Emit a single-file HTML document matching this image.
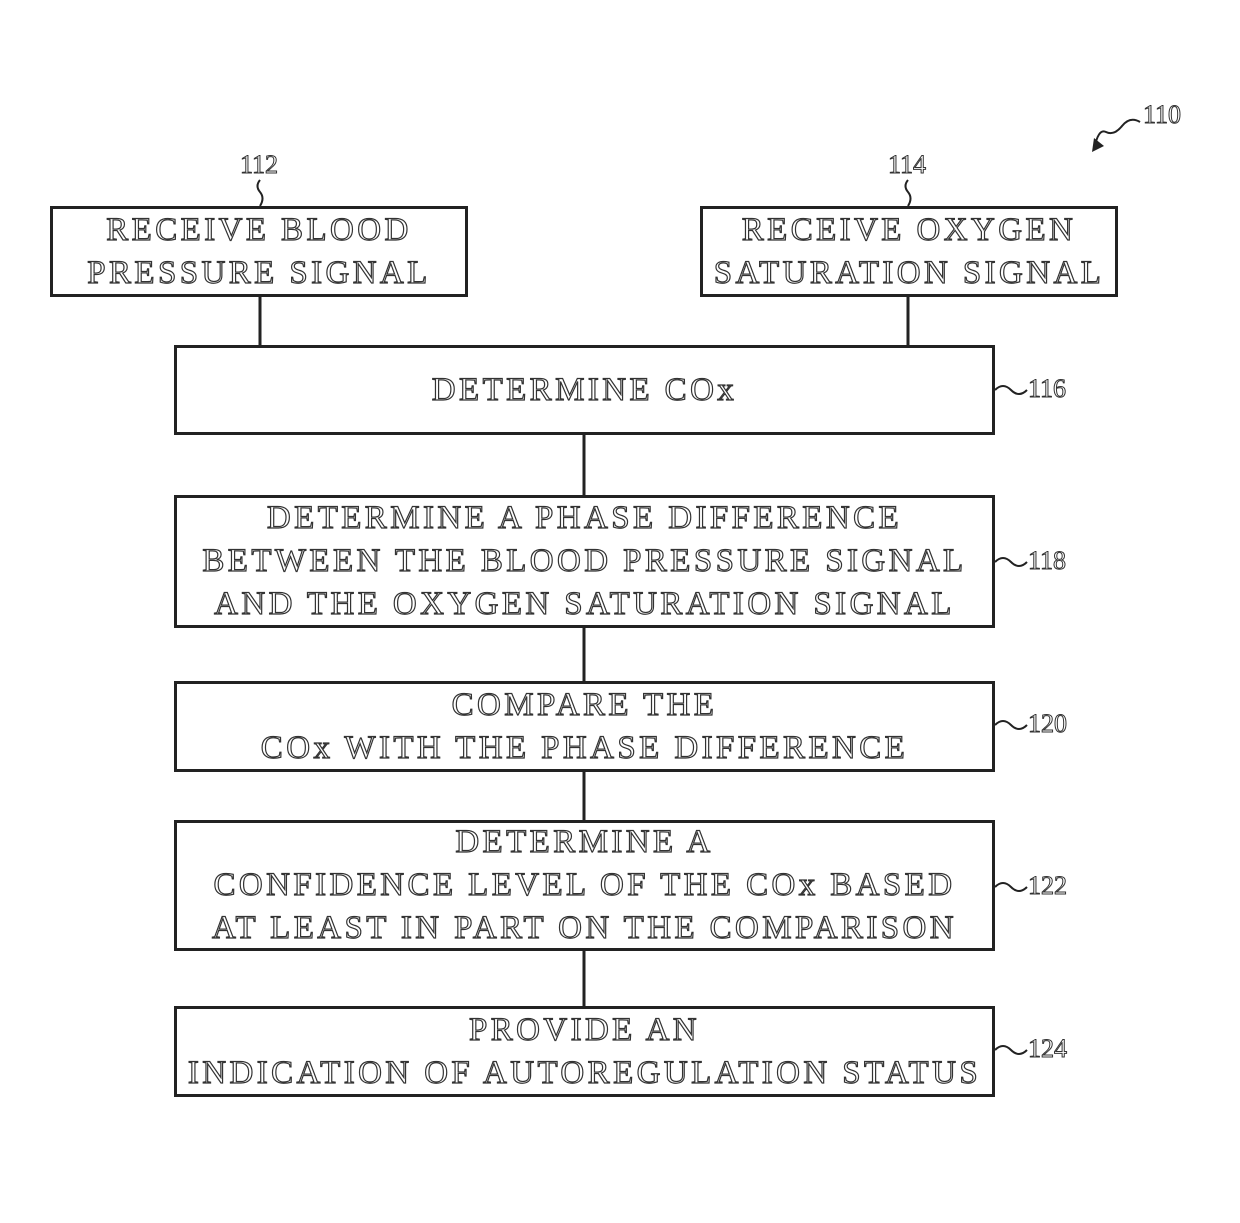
<!DOCTYPE html>
<html><head><meta charset="utf-8"><style>
body{margin:0;width:1240px;height:1223px;background:#fff;position:relative;overflow:hidden;font-family:"Liberation Serif",serif}
.b{position:absolute;border:3px solid #222;box-sizing:border-box;display:flex;align-items:center;justify-content:center;text-align:center;font-size:33px;line-height:43px;color:#fff;-webkit-text-stroke:1.2px #333;letter-spacing:3.4px}
.l{position:absolute;font-size:26px;color:#fff;-webkit-text-stroke:1px #333}
</style></head><body>
<svg width="1240" height="1223" style="position:absolute;left:0;top:0" fill="none" stroke="#222" stroke-width="3">
<line x1="260" y1="296" x2="260" y2="345"/>
<line x1="908" y1="296" x2="908" y2="345"/>
<line x1="584" y1="434" x2="584" y2="495"/>
<line x1="584" y1="627" x2="584" y2="681"/>
<line x1="584" y1="771" x2="584" y2="820"/>
<line x1="584" y1="950" x2="584" y2="1006"/>
<path d="M260 180 q-5 6 0 12 q5 6 0 14" stroke-width="2"/>
<path d="M908 180 q-5 6 0 12 q5 6 0 14" stroke-width="2"/>
<path d="M995 390 q8 -8 16 0 q8 8 16 0" stroke-width="2"/>
<path d="M995 562 q8 -8 16 0 q8 8 16 0" stroke-width="2"/>
<path d="M995 725 q8 -8 16 0 q8 8 16 0" stroke-width="2"/>
<path d="M995 887 q8 -8 16 0 q8 8 16 0" stroke-width="2"/>
<path d="M995 1050 q8 -8 16 0 q8 8 16 0" stroke-width="2"/>
<path d="M1140 122 q-10 -6 -18 4 q-8 10 -16 6 q-8 -4 -12 18" stroke-width="2"/>
<polygon points="1092,152 1094,138 1104,146" fill="#222" stroke="none"/>
</svg>
<div class="l" style="left:240px;top:150px">112</div>
<div class="l" style="left:888px;top:150px">114</div>
<div class="l" style="left:1143px;top:100px">110</div>
<div class="l" style="left:1028px;top:374px">116</div>
<div class="l" style="left:1028px;top:546px">118</div>
<div class="l" style="left:1028px;top:709px">120</div>
<div class="l" style="left:1028px;top:871px">122</div>
<div class="l" style="left:1028px;top:1034px">124</div>
<div class="b" style="left:50px;top:206px;width:418px;height:91px">RECEIVE BLOOD<br>PRESSURE SIGNAL</div>
<div class="b" style="left:700px;top:206px;width:418px;height:91px">RECEIVE OXYGEN<br>SATURATION SIGNAL</div>
<div class="b" style="left:174px;top:345px;width:821px;height:90px">DETERMINE COx</div>
<div class="b" style="left:174px;top:495px;width:821px;height:133px">DETERMINE A PHASE DIFFERENCE<br>BETWEEN THE BLOOD PRESSURE SIGNAL<br>AND THE OXYGEN SATURATION SIGNAL</div>
<div class="b" style="left:174px;top:681px;width:821px;height:91px">COMPARE THE<br>COx WITH THE PHASE DIFFERENCE</div>
<div class="b" style="left:174px;top:820px;width:821px;height:131px">DETERMINE A<br>CONFIDENCE LEVEL OF THE COx BASED<br>AT LEAST IN PART ON THE COMPARISON</div>
<div class="b" style="left:174px;top:1006px;width:821px;height:91px">PROVIDE AN<br>INDICATION OF AUTOREGULATION STATUS</div>
</body></html>
